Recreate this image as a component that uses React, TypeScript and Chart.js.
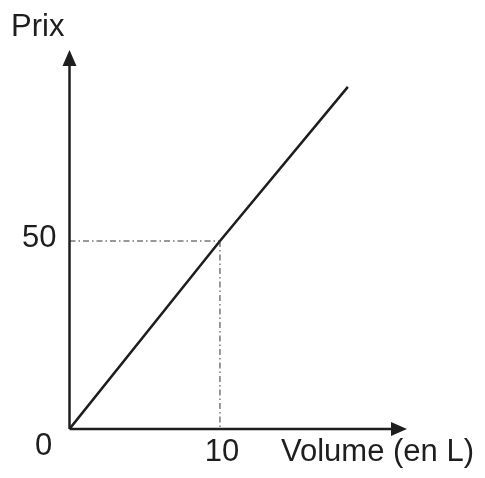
import React, { useEffect, useRef } from "react";
import { Chart, registerables } from "chart.js";

Chart.register(...registerables);

const volumes = [0, 10, 18.5];
const prices = [0, 50, 91];
const guideX = [10];
const guideY = [50];
const originLabel = "0";
const xTitle = "Volume (en L)";
const yTitle = "Prix";

const INK = "#1e1e1e";
const FONT = "31px 'Liberation Sans', Arial, sans-serif";

const axesPlugin = {
  id: "customAxes",
  afterDatasetsDraw(chart: any) {
    const { ctx, scales, chartArea } = chart;
    const xs = scales.x;
    const ys = scales.y;
    const x0 = xs.getPixelForValue(0);
    const y0 = ys.getPixelForValue(0);
    const xEnd = chartArea.right;
    const yEnd = chartArea.top;
    ctx.save();

    // guides (dash-dot)
    ctx.strokeStyle = "#333";
    ctx.lineWidth = 1;
    ctx.setLineDash([6, 3, 1.5, 3]);
    guideX.forEach((gx, i) => {
      const gy = guideY[i];
      const px = xs.getPixelForValue(gx);
      const py = ys.getPixelForValue(gy);
      ctx.beginPath();
      ctx.moveTo(x0, py);
      ctx.lineTo(px, py);
      ctx.stroke();
      ctx.beginPath();
      ctx.moveTo(px, py);
      ctx.lineTo(px, y0);
      ctx.stroke();
    });
    ctx.setLineDash([]);

    // axes
    ctx.strokeStyle = INK;
    ctx.fillStyle = INK;
    ctx.lineWidth = 2.5;
    ctx.beginPath();
    ctx.moveTo(x0, y0);
    ctx.lineTo(xEnd - 12, y0);
    ctx.stroke();
    ctx.beginPath();
    ctx.moveTo(x0, y0);
    ctx.lineTo(x0, yEnd + 12);
    ctx.stroke();
    // arrow heads
    ctx.beginPath();
    ctx.moveTo(xEnd, y0);
    ctx.lineTo(xEnd - 16, y0 - 7);
    ctx.lineTo(xEnd - 16, y0 + 7);
    ctx.closePath();
    ctx.fill();
    ctx.beginPath();
    ctx.moveTo(x0, yEnd);
    ctx.lineTo(x0 - 7, yEnd + 16);
    ctx.lineTo(x0 + 7, yEnd + 16);
    ctx.closePath();
    ctx.fill();

    // labels
    ctx.font = FONT;
    ctx.fillStyle = INK;
    ctx.textBaseline = "alphabetic";
    ctx.textAlign = "center";
    ctx.fillText(originLabel, x0 - 26, y0 + 26);
    guideX.forEach((gx) => {
      ctx.fillText(String(gx), xs.getPixelForValue(gx) + 2, y0 + 32);
    });
    ctx.textAlign = "right";
    guideY.forEach((gy) => {
      ctx.fillText(String(gy), x0 - 13, ys.getPixelForValue(gy) + 6);
    });
    ctx.textAlign = "left";
    ctx.fillText(xTitle, 281, y0 + 32);
    ctx.fillText(yTitle, 11, 36);
    ctx.restore();
  },
};

export default function App() {
  const ref = useRef<HTMLCanvasElement | null>(null);
  useEffect(() => {
    document.body.style.margin = "0";
    const canvas = ref.current;
    if (!canvas) return;
    const chart = new Chart(canvas, {
      type: "scatter",
      data: {
        datasets: [
          {
            data: volumes.map((v, i) => ({ x: v, y: prices[i] })),
            showLine: true,
            borderColor: INK,
            borderWidth: 2.5,
            pointRadius: 0,
            tension: 0,
          },
        ],
      },
      options: {
        animation: false,
        responsive: false,
        devicePixelRatio: 1,
        layout: { padding: { left: 69.5, right: 78, top: 50, bottom: 49 } },
        plugins: { legend: { display: false }, tooltip: { enabled: false } },
        scales: {
          x: { type: "linear", min: 0, max: 22.43, display: false },
          y: { type: "linear", min: 0, max: 100.8, display: false },
        },
      },
      plugins: [axesPlugin],
    });
    return () => chart.destroy();
  }, []);
  return (
    <div style={{ width: 485, height: 478, background: "#fff" }}>
      <canvas ref={ref} width={485} height={478} style={{ display: "block" }} />
    </div>
  );
}
